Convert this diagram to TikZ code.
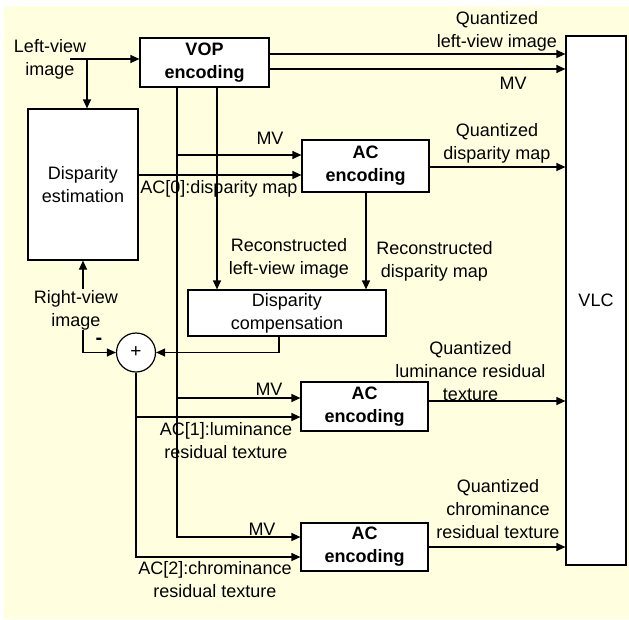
\documentclass[tikz,border=0pt]{standalone}
\usepackage{fontspec}
\setmainfont{Liberation Sans}
\usetikzlibrary{arrows.meta}
\definecolor{bgy}{RGB}{255,255,224}
\begin{document}
\begin{tikzpicture}[x=1pt,y=-1pt,
  lw/.style={line width=1.2pt},
  arr/.style={lw,-{Triangle[length=9pt,width=8pt]}},
  blk/.style={draw,lw,fill=white,inner sep=0pt,align=center,font=\fontsize{18}{23}\selectfont},
  bblk/.style={blk,font=\fontsize{18}{23}\selectfont\bfseries},
  lbl/.style={inner sep=0pt,align=center,font=\fontsize{18}{23}\selectfont}]
\useasboundingbox (0,0) rectangle (629,619);
\fill[bgy] (4,6) rectangle (629,619);
% blocks
\node[bblk,minimum width=129pt,minimum height=49pt] (vop) at (204.5,62.5) {VOP\\encoding};
\node[blk,minimum width=110pt,minimum height=151pt] (de) at (83,184.5) {Disparity\\estimation};
\node[bblk,minimum width=127pt,minimum height=52pt] (ac1) at (365.5,166) {AC\\encoding};
\node[blk,minimum width=198pt,minimum height=46pt] (dc) at (287,313) {Disparity\\compensation};
\node[bblk,minimum width=127pt,minimum height=49pt] (ac2) at (364.5,406.5) {AC\\encoding};
\node[bblk,minimum width=127pt,minimum height=48pt] (ac3) at (364.5,547) {AC\\encoding};
\node[blk,minimum width=60pt,minimum height=529pt] (vlc) at (596,300.5) {VLC};
\node[draw,lw,fill=white,circle,minimum size=39pt,inner sep=0pt,font=\fontsize{19}{21}\selectfont] (sum) at (136,352.5) {+};
% labels
\node[lbl] (lvi) at (50,59) {Left-view\\image};
\node[lbl] (rvi) at (76,310) {Right-view\\image};
\node[lbl] (qlv) at (497,31.5) {Quantized\\left-view image};
\node[lbl] (mv0) at (513,83) {MV};
\node[lbl] (mv1) at (270,138) {MV};
\node[lbl] (ac0l) at (219,189) {AC[0]:disparity map};
\node[lbl] (qdm) at (497,143) {Quantized\\disparity map};
\node[lbl] (rlv) at (289,258) {Reconstructed\\left-view image};
\node[lbl] (rdm) at (434.5,261) {Reconstructed\\disparity map};
\node[lbl,font=\fontsize{20}{23}\selectfont\bfseries] (minus) at (99,341) {-};
\node[lbl] (mv2) at (269,389) {MV};
\node[lbl] (ac1l) at (226,441) {AC[1]:luminance\\residual texture};
\node[lbl] (qlr) at (470.5,371) {Quantized\\luminance residual\\texture};
\node[lbl] (mv3) at (262,529) {MV};
\node[lbl] (ac2l) at (215,580) {AC[2]:chrominance\\residual texture};
\node[lbl] (qcr) at (498,509) {Quantized\\chrominance\\residual texture};
% coordinates
\coordinate (lvs) at (70,59);
\coordinate (lvb) at (87,59);
\coordinate (v1) at (177,87);
\coordinate (v2) at (217,87);
\coordinate (rvs) at (83,289);
\coordinate (rvt) at (83,330);
\coordinate (rvc) at (83,352.5);
\coordinate (dcb) at (279,336);
\coordinate (dcc) at (279,352.5);
\coordinate (sb) at (136,557);
% connectors
\draw[arr] (lvs) -- (vop.west |- lvs);
\draw[arr] (lvb) -- (lvb |- de.north);
\draw[arr] (vop.east |- 0,54) -- (vlc.west |- 0,54);
\draw[arr] (vop.east |- 0,69) -- (vlc.west |- 0,69);
\draw[arr] (v1) |- (ac3.west |- 0,537);
\draw[arr] (v1 |- 0,155) -- (ac1.west |- 0,155);
\draw[arr] (v1 |- 0,398) -- (ac2.west |- 0,398);
\draw[arr] (v2) -- (v2 |- dc.north);
\draw[arr] (de.east |- 0,175) -- (ac1.west |- 0,175);
\draw[arr] (ac1.east |- 0,167) -- (vlc.west |- 0,167);
\draw[arr] (ac1.south -| 366,0) -- (dc.north -| 366,0);
\draw[arr] (rvs) -- (rvs |- de.south);
\draw[arr] (rvt) -- (rvc) -- (sum.west);
\draw[arr] (dcb) -- (dcc) -- (sum.east);
\draw[arr] (sum.south) -- (sb) -- (ac3.west |- sb);
\draw[arr] (sum.south |- 0,417) -- (ac2.west |- 0,417);
\draw[arr] (ac2.east |- 0,401) -- (vlc.west |- 0,401);
\draw[arr] (ac3.east |- 0,547) -- (vlc.west |- 0,547);
\end{tikzpicture}
\end{document}
